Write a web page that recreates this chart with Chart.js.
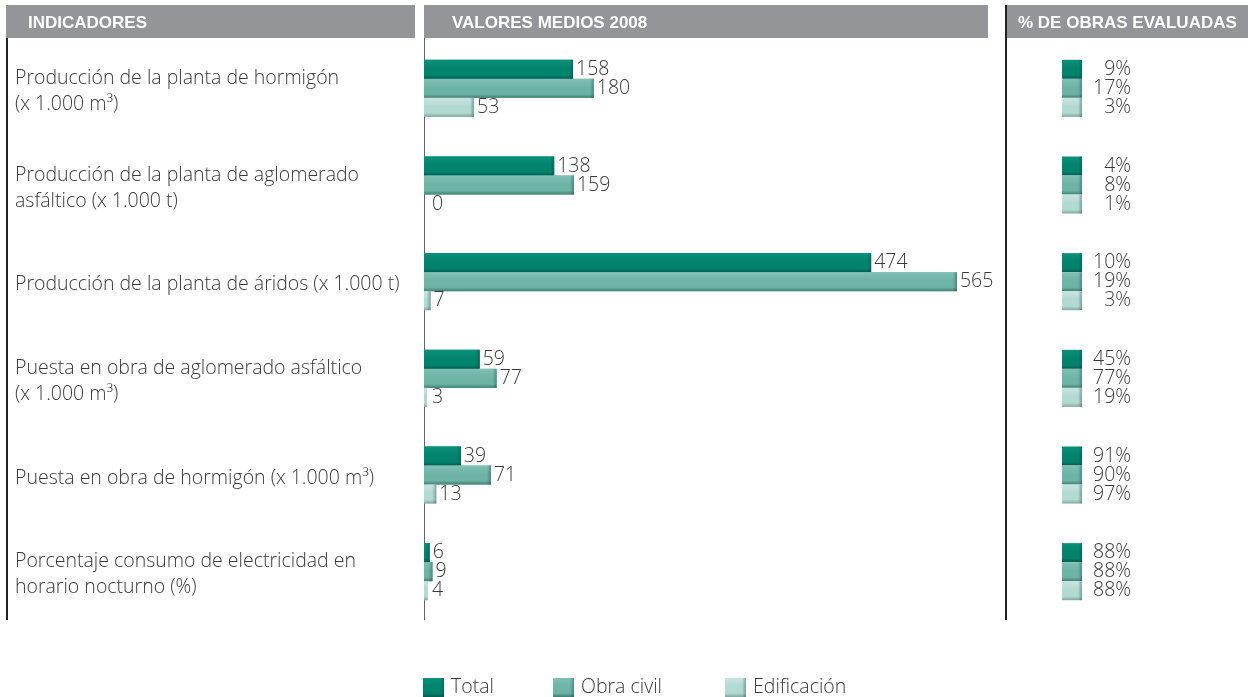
<!DOCTYPE html>
<html lang="es">
<head>
<meta charset="UTF-8">
<title>Indicadores 2008</title>
<script src="https://cdn.jsdelivr.net/npm/chart.js@4"></script>
<style>
  html, body { margin: 0; padding: 0; background: #fff; }
  #wrap { width: 1248px; height: 697px; }
</style>
</head>
<body>
<div id="wrap"><canvas id="chart" width="1248" height="697"></canvas></div>
<script>
// indicadores y valores medios 2008
const categories = [
    ['Producción de la planta de hormigón', '(x 1.000 m³)'],
    ['Producción de la planta de aglomerado', 'asfáltico (x 1.000 t)'],
    'Producción de la planta de áridos (x 1.000 t)',
    ['Puesta en obra de aglomerado asfáltico', '(x 1.000 m³)'],
    'Puesta en obra de hormigón (x 1.000 m³)',
    ['Porcentaje consumo de electricidad en', 'horario nocturno (%)']
];
const seriesNames = ['Total', 'Obra civil', 'Edificación'];
const total = [158, 138, 474, 59, 39, 6];
const obraCivil = [180, 159, 565, 77, 71, 9];
const edificacion = [53, 0, 7, 3, 13, 4];

// % de obras evaluadas
const pctTotal = [9, 4, 10, 45, 91, 88];
const pctObraCivil = [17, 8, 19, 77, 90, 88];
const pctEdificacion = [3, 1, 3, 19, 97, 88];

const headers = ['INDICADORES', 'VALORES MEDIOS 2008', '% DE OBRAS EVALUADAS'];

const FONT = '"Open Sans"';
const SIZE = 19.5;
const TEXT = '#3a3a3a';
// main colour, top highlight, bottom shade
const palette = [
    ['#00846e', '#0a9079', '#005e4e'],
    ['#6db3a6', '#82c0b4', '#3f7f71'],
    ['#b3d9d3', '#c8e5e0', '#7ea89f']
];

function shadeRect(ctx, x, y, w, h, pal) {
    const g = ctx.createLinearGradient(0, y, 0, y + h);
    g.addColorStop(0, pal[1]);
    g.addColorStop(0.45, pal[0]);
    g.addColorStop(0.8, pal[0]);
    g.addColorStop(1, pal[2]);
    ctx.fillStyle = g;
    ctx.fillRect(x, y, w, h);
    // darker right edge
    if (w > 4) {
        const e = ctx.createLinearGradient(x + w - 4, 0, x + w, 0);
        e.addColorStop(0, 'rgba(0,60,50,0)');
        e.addColorStop(1, 'rgba(0,60,50,0.35)');
        ctx.fillStyle = e;
        ctx.fillRect(x + w - 4, y, 4, h);
    }
}

const frame = {
    id: 'frame',
    beforeDraw(chart) {
        const ctx = chart.ctx;
        const area = chart.chartArea;
        ctx.save();
        // header bands
        const bands = [[6, 415], [424, 988], [1007, 1248]];
        const textX = [28, 452, 1018];
        ctx.fillStyle = '#939598';
        bands.forEach(b => ctx.fillRect(b[0], 5, b[1] - b[0], 33));
        ctx.fillStyle = '#fff';
        ctx.font = 'bold 17px "Liberation Sans", Arial, sans-serif';
        ctx.textBaseline = 'middle';
        headers.forEach((h, i) => ctx.fillText(h, textX[i], 23));
        // column rules
        ctx.fillStyle = '#222';
        ctx.fillRect(6, 38, 2, 582);
        ctx.fillRect(1005, 5, 2, 615);
        ctx.fillStyle = '#666';
        ctx.fillRect(area.left, 38, 1, 582);
        ctx.restore();
    },
    afterDatasetsDraw(chart) {
        const ctx = chart.ctx;
        ctx.save();
        const pcts = [pctTotal, pctObraCivil, pctEdificacion];
        ctx.font = '300 ' + SIZE + 'px ' + FONT;
        ctx.textBaseline = 'middle';
        chart.data.datasets.forEach((ds, di) => {
            const meta = chart.getDatasetMeta(di);
            meta.data.forEach((bar, i) => {
                const p = bar.getProps(['x', 'y', 'base', 'height'], true);
                const top = p.y - p.height / 2;
                const w = p.x - p.base;
                if (w > 0) shadeRect(ctx, p.base, top, w, p.height, palette[di]);
                ctx.fillStyle = TEXT;
                ctx.textAlign = 'left';
                ctx.fillText(String(ds.data[i]), Math.max(p.x, p.base + 5) + 3, p.y);
                // percentage column
                shadeRect(ctx, 1062, top, 20, p.height, palette[di]);
                ctx.fillStyle = TEXT;
                ctx.textAlign = 'right';
                ctx.fillText(pcts[di][i] + '%', 1131, p.y);
            });
        });
        // legend
        const lx = [423, 553, 725];
        ctx.textAlign = 'left';
        seriesNames.forEach((name, i) => {
            shadeRect(ctx, lx[i], 678, 21, 19, palette[i]);
            ctx.fillStyle = TEXT;
            ctx.fillText(name, lx[i] + 28, 687);
        });
        ctx.restore();
    }
};

new Chart(document.getElementById('chart'), {
    type: 'bar',
    data: {
        labels: categories,
        datasets: seriesNames.map((name, i) => ({
            label: name,
            data: [total, obraCivil, edificacion][i],
            backgroundColor: palette[i][0],
            borderWidth: 0,
            categoryPercentage: 0.59,
            barPercentage: 1
        }))
    },
    options: {
        indexAxis: 'y',
        responsive: false,
        animation: false,
        layout: { padding: { left: 15, top: 40, right: 258, bottom: 77 } },
        plugins: {
            legend: { display: false },
            tooltip: { enabled: false }
        },
        scales: {
            x: { display: false, min: 0, max: 600 },
            y: {
                grid: { display: false },
                border: { display: false },
                afterFit(scale) { scale.width = 409; },
                ticks: {
                    crossAlign: 'far',
                    color: TEXT,
                    font: { family: FONT, size: SIZE, weight: '300', lineHeight: 1.33 },
                    labelOffset: 3
                }
            }
        }
    },
    plugins: [frame]
});
</script>
</body>
</html>
